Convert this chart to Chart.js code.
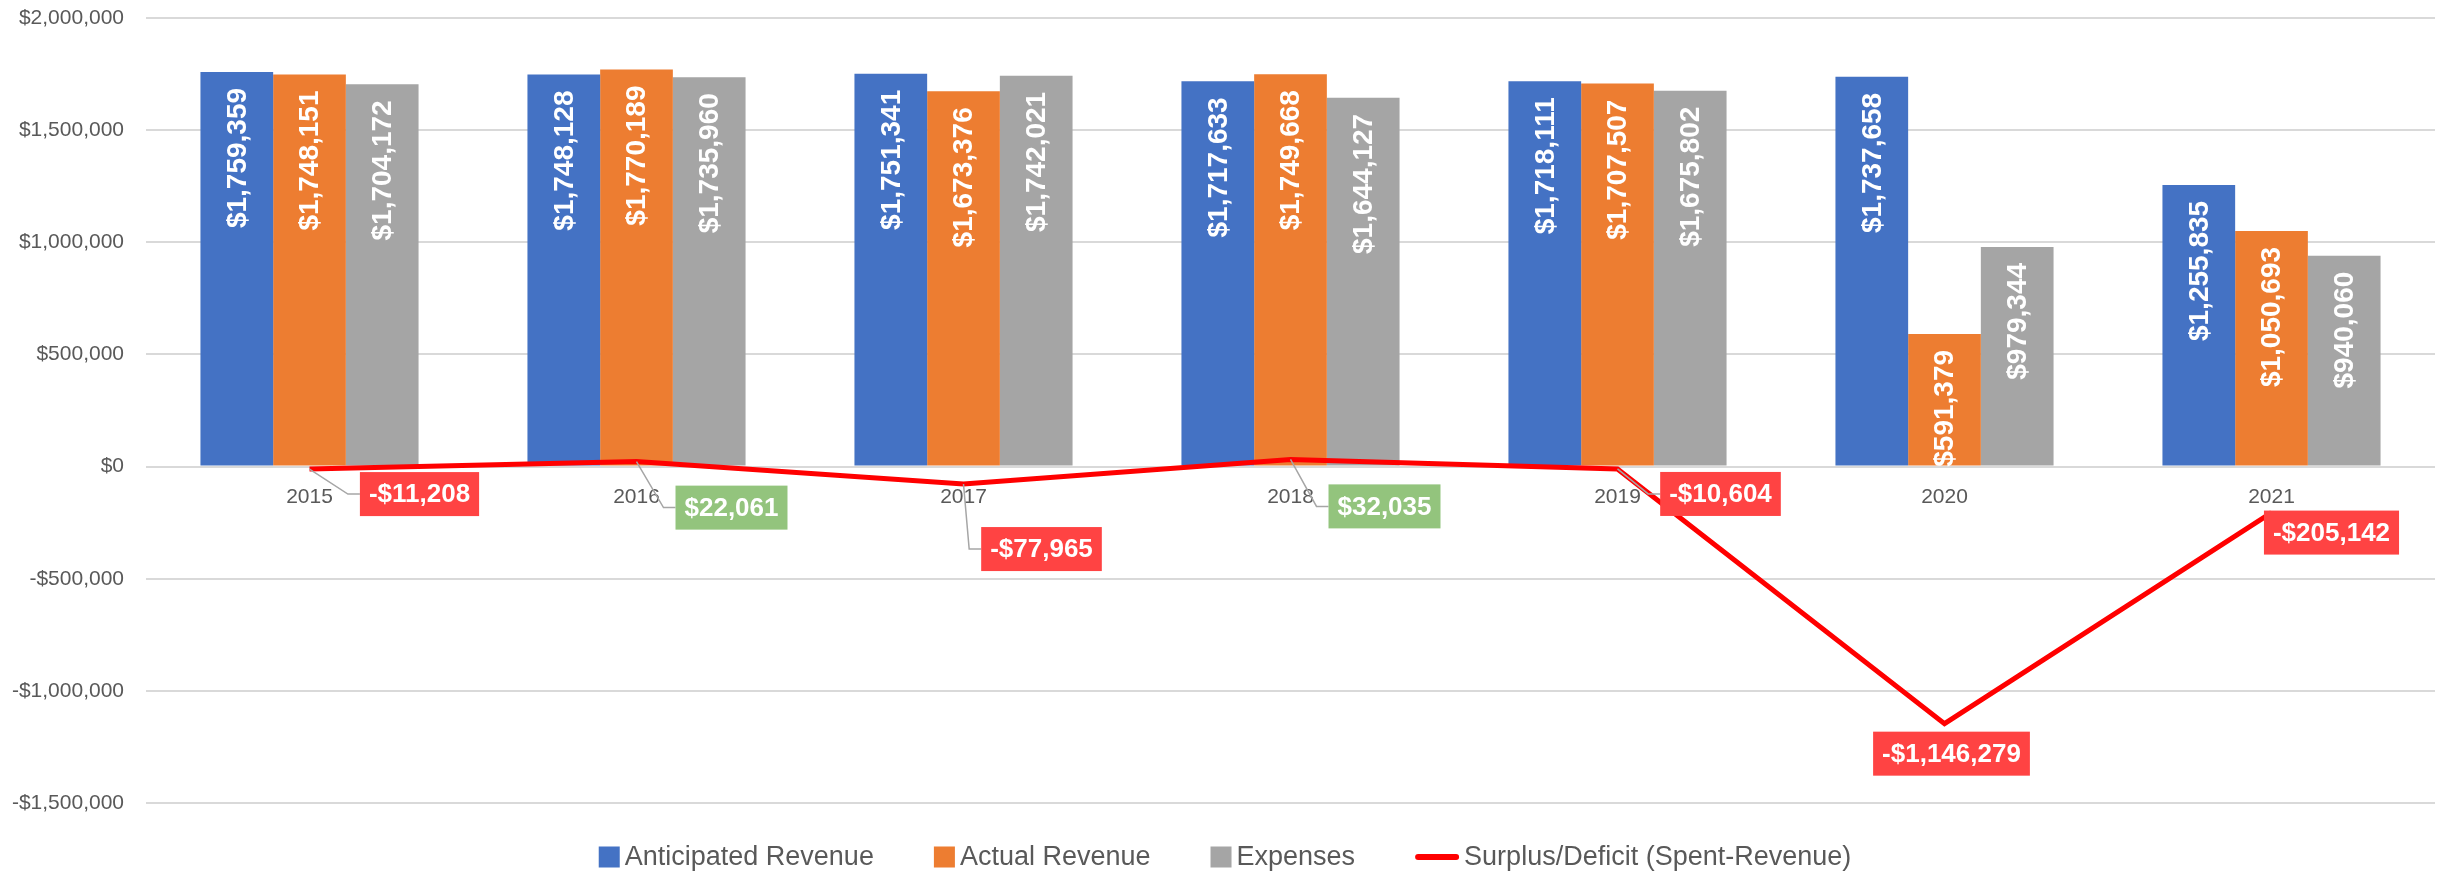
<!DOCTYPE html>
<html>
<head>
<meta charset="utf-8">
<script src="https://cdn.jsdelivr.net/npm/chart.js@4/dist/chart.umd.min.js"></script>
<style>
html,body{margin:0;padding:0;background:#ffffff;}
#wrap{width:2450px;height:872px;position:relative;}
</style>
</head>
<body>
<div id="wrap"><canvas id="c" width="2450" height="872"></canvas></div>
<script>
// ---- data ----
const categories = ['2015', '2016', '2017', '2018', '2019', '2020', '2021'];
const anticipatedRevenue = [1759359, 1748128, 1751341, 1717633, 1718111, 1737658, 1255835];
const actualRevenue = [1748151, 1770189, 1673376, 1749668, 1707507, 591379, 1050693];
const expenses = [1704172, 1735960, 1742021, 1644127, 1675802, 979344, 940060];
const surplusDeficit = [-11208, 22061, -77965, 32035, -10604, -1146279, -205142];
const yTickValues = [-1500000, -1000000, -500000, 0, 500000, 1000000, 1500000, 2000000];
const seriesNames = ['Anticipated Revenue', 'Actual Revenue', 'Expenses', 'Surplus/Deficit (Spent-Revenue)'];

// ---- styling (label placement relative to each line point) ----
const calloutOffsets = [[110, 25], [95, 46], [78, 65], [94, 47], [103, 25], [7, 30], [60, 20]];
const FONT = '"Liberation Sans", Arial, sans-serif';

function money(v) {
  return (v < 0 ? '-' : '') + '$' + Math.abs(v).toLocaleString('en-US');
}

const labelPlugin = {
  id: 'valueLabels',
  afterDatasetsDraw(chart) {
    const ctx = chart.ctx;
    // bar value labels (rotated, inside end)
    chart.data.datasets.forEach((ds, di) => {
      if (ds.type === 'line') return;
      const meta = chart.getDatasetMeta(di);
      meta.data.forEach((bar, i) => {
        ctx.save();
        ctx.translate(bar.x, bar.y + 16);
        ctx.rotate(-Math.PI / 2);
        ctx.font = 'bold 28px ' + FONT;
        ctx.fillStyle = '#ffffff';
        ctx.textAlign = 'right';
        ctx.textBaseline = 'middle';
        ctx.fillText(money(ds.data[i]), 0, 1);
        ctx.restore();
      });
    });
    // line callouts
    const li = chart.data.datasets.findIndex(d => d.type === 'line');
    const lds = chart.data.datasets[li];
    const lmeta = chart.getDatasetMeta(li);
    ctx.save();
    ctx.font = 'bold 26px ' + FONT;
    lmeta.data.forEach((pt, i) => {
      const v = lds.data[i];
      const txt = money(v);
      const tw = ctx.measureText(txt).width;
      const bw = tw + 18, bh = 44;
      const cx = pt.x + calloutOffsets[i][0];
      const cy = pt.y + calloutOffsets[i][1];
      const left = cx - bw / 2, top = cy - bh / 2;
      if (left - pt.x > 15) {
        const ex = Math.max(pt.x, left - 12);
        ctx.strokeStyle = '#a6a6a6';
        ctx.lineWidth = 1.5;
        ctx.beginPath();
        ctx.moveTo(pt.x, pt.y);
        ctx.lineTo(ex, cy);
        ctx.lineTo(left, cy);
        ctx.stroke();
      }
      ctx.fillStyle = v < 0 ? '#ff4343' : '#93c47d';
      ctx.fillRect(left, top, bw, bh);
      ctx.fillStyle = '#ffffff';
      ctx.textAlign = 'center';
      ctx.textBaseline = 'middle';
      ctx.fillText(txt, cx, cy + 1);
    });
    ctx.restore();
  }
};

const legendPlugin = {
  id: 'bottomLegend',
  afterDraw(chart) {
    const ctx = chart.ctx;
    ctx.save();
    ctx.font = '27px ' + FONT;
    const items = chart.data.datasets.map(ds => ({
      text: ds.label,
      color: ds.type === 'line' ? ds.borderColor : ds.backgroundColor,
      line: ds.type === 'line'
    }));
    const boxW = 21, lineW = 44, gapIcon = 5, gapItem = 60;
    let total = 0;
    items.forEach((it, k) => {
      it.iw = it.line ? lineW : boxW;
      it.tw = ctx.measureText(it.text).width;
      total += it.iw + gapIcon + it.tw + (k < items.length - 1 ? gapItem : 0);
    });
    let x = (chart.width - total) / 2;
    const y = 857;
    items.forEach(it => {
      if (it.line) {
        ctx.strokeStyle = it.color;
        ctx.lineWidth = 6;
        ctx.lineCap = 'round';
        ctx.beginPath();
        ctx.moveTo(x + 3, y);
        ctx.lineTo(x + it.iw - 3, y);
        ctx.stroke();
      } else {
        ctx.fillStyle = it.color;
        ctx.fillRect(x, y - boxW / 2, boxW, boxW);
      }
      x += it.iw + gapIcon;
      ctx.fillStyle = '#595959';
      ctx.textAlign = 'left';
      ctx.textBaseline = 'middle';
      ctx.fillText(it.text, x, y + 1);
      x += it.tw + gapItem;
    });
    ctx.restore();
  }
};

new Chart(document.getElementById('c'), {
  data: {
    labels: categories,
    datasets: [
      { type: 'bar', label: seriesNames[0], data: anticipatedRevenue, backgroundColor: '#4472c4', order: 1 },
      { type: 'bar', label: seriesNames[1], data: actualRevenue, backgroundColor: '#ed7d31', order: 1 },
      { type: 'bar', label: seriesNames[2], data: expenses, backgroundColor: '#a5a5a5', order: 1 },
      { type: 'line', label: seriesNames[3], data: surplusDeficit, borderColor: '#ff0000', backgroundColor: '#ff0000',
        borderWidth: 5, pointRadius: 0, tension: 0, order: 0, borderJoinStyle: 'miter' }
    ]
  },
  options: {
    responsive: false,
    devicePixelRatio: 1,
    animation: false,
    layout: { padding: { left: 0, right: 15, top: 18, bottom: 69 } },
    datasets: { bar: { categoryPercentage: 0.667, barPercentage: 1.0 } },
    plugins: { legend: { display: false }, tooltip: { enabled: false } },
    scales: {
      x: {
        type: 'category',
        position: { y: 0 },
        grid: { display: false, drawTicks: false },
        border: { display: false },
        ticks: { color: '#595959', font: { family: FONT, size: 21 }, padding: 18 }
      },
      y: {
        min: -1500000,
        max: 2000000,
        afterFit(scale) { scale.width = 146; scale.paddingTop = 0; scale.paddingBottom = 0; },
        afterBuildTicks(scale) { scale.ticks = yTickValues.map(v => ({ value: v })); },
        grid: { color: '#d9d9d9', lineWidth: 2, drawTicks: false },
        border: { display: false },
        ticks: { color: '#595959', font: { family: FONT, size: 21 }, padding: 22, callback: v => money(v) }
      }
    }
  },
  plugins: [labelPlugin, legendPlugin]
});
</script>
</body>
</html>
